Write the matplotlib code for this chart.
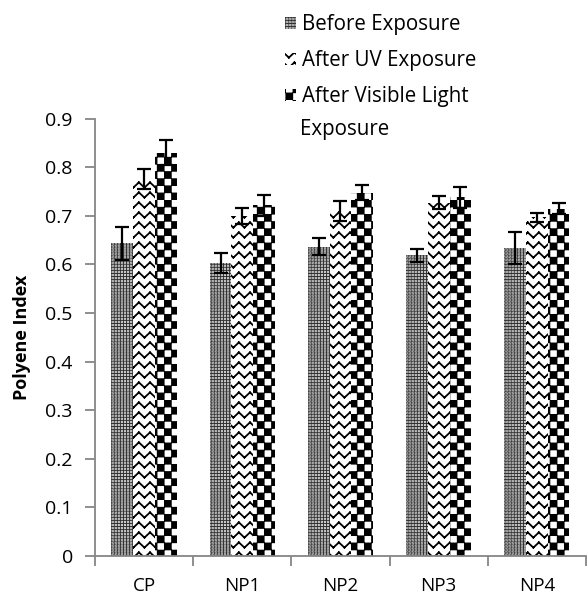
import warnings
import numpy as np
import matplotlib
matplotlib.use("Agg")
import matplotlib.pyplot as plt
import matplotlib.hatch as mhatch
from matplotlib.path import Path

warnings.filterwarnings("ignore")

#%% data
samples = ["CP", "NP1", "NP2", "NP3", "NP4"]
labels = ["Before Exposure", "After UV Exposure", "After Visible Light", "Exposure"]
before = [0.644, 0.603, 0.637, 0.619, 0.633]
before_err = [0.034, 0.021, 0.018, 0.013, 0.033]
uv = [0.776, 0.700, 0.710, 0.727, 0.697]
uv_err = [0.020, 0.016, 0.021, 0.013, 0.010]
vis = [0.830, 0.722, 0.748, 0.738, 0.715]
vis_err = [0.026, 0.022, 0.016, 0.021, 0.011]


#%% custom hatches: checkerboard 'k', zigzag 'z', fine dots 'q'
def _square(vertices, codes, c, x0, y0, x1, y1):
    vertices[c:c + 5] = [(x0, y0), (x1, y0), (x1, y1), (x0, y1), (x0, y0)]
    codes[c:c + 5] = [Path.MOVETO, Path.LINETO, Path.LINETO,
                      Path.LINETO, Path.CLOSEPOLY]


class CheckerHatch(mhatch.HatchPatternBase):
    def __init__(self, hatch, density):
        self.n = 2 * hatch.count('k')
        self.num_vertices = (self.n * self.n // 2) * 5

    def set_vertices_and_codes(self, vertices, codes):
        s = 1.0 / self.n
        d = 0.006
        c = 0
        for i in range(self.n):
            for j in range(self.n):
                if (i + j) % 2:
                    continue
                _square(vertices, codes, c, i * s + d, j * s + d,
                        (i + 1) * s - d, (j + 1) * s - d)
                c += 5


class DotHatch(mhatch.HatchPatternBase):
    def __init__(self, hatch, density):
        self.n = 2 * hatch.count('q')
        self.num_vertices = self.n * self.n * 5

    def set_vertices_and_codes(self, vertices, codes):
        s = 1.0 / self.n
        h = 0.001
        c = 0
        for i in range(self.n):
            for j in range(self.n):
                cx, cy = (i + 0.5) * s, (j + 0.5) * s
                _square(vertices, codes, c, cx - h, cy - h, cx + h, cy + h)
                c += 5


class ZigZagHatch(mhatch.HatchPatternBase):
    def __init__(self, hatch, density):
        k = hatch.count('z')
        self.rows = 10 * k
        self.periods = 9 * k
        self.num_vertices = self.rows * self.periods * 4

    def set_vertices_and_codes(self, vertices, codes):
        a = 0.026
        c = 0
        for r in range(self.rows):
            y = (r + 0.5) / self.rows
            for p in range(self.periods):
                x0 = p / self.periods
                xm = (p + 0.5) / self.periods
                x1 = (p + 1) / self.periods
                vertices[c:c + 4] = [(x0, y - a), (xm, y + a), (xm, y + a), (x1, y - a)]
                codes[c:c + 4] = [Path.MOVETO, Path.LINETO, Path.MOVETO, Path.LINETO]
                c += 4


mhatch._hatch_types += [CheckerHatch, DotHatch, ZigZagHatch]

plt.rcParams['font.family'] = ['Open Sans', 'DejaVu Sans']
plt.rcParams['hatch.linewidth'] = 1.3

#%% plot
fig = plt.figure(figsize=(5.87, 5.97), dpi=100)
ax = fig.add_axes([0.162, 0.069, 0.836, 0.732])

x = np.arange(len(samples))
w = 0.222
# (values, errors, hatch, face, hatch colour)
series = [(before, before_err, 'q' * 17, '#2a2a2a', 'white'),
          (uv, uv_err, 'z', 'white', 'black'),
          (vis, vis_err, 'k' * 7, 'white', 'black')]
handles = []
for i, (vals, errs, hat, fc, hc) in enumerate(series):
    b = ax.bar(x + (i - 1) * w, vals, w, color=fc, edgecolor=hc,
               linewidth=0, hatch=hat, zorder=2)
    ax.errorbar(x + (i - 1) * w, vals, yerr=errs, fmt='none', ecolor='black',
                elinewidth=1.6, capsize=5, capthick=1.6, zorder=3)
    handles.append(b)

ax.set_xlim(-0.5, 4.5)
ax.set_ylim(0, 0.9)
ax.set_yticks(np.arange(0, 0.91, 0.1))
ax.set_yticklabels(["0"] + [f"{t:.1f}" for t in np.arange(0.1, 0.91, 0.1)])
ax.set_xticks(x)
ax.set_xticklabels(samples)
ax.set_xticks(np.arange(-0.5, 4.6, 1), minor=True)
ax.tick_params(axis='x', which='major', length=0, pad=15, labelsize=13.5)
ax.tick_params(axis='x', which='minor', length=7, width=1.3, color='#868686')
ax.tick_params(axis='y', length=7, width=1.3, color='#868686', pad=9, labelsize=14)
for s in ['top', 'right']:
    ax.spines[s].set_visible(False)
for s in ['left', 'bottom']:
    ax.spines[s].set_color('#868686')
    ax.spines[s].set_linewidth(1.3)

ax.set_ylabel("Polyene Index", fontweight='bold', fontsize=13, labelpad=10)

fs = 14.8
leg = fig.legend(handles=handles, labels=labels[:3], loc='upper left',
                 bbox_to_anchor=(0.468, 0.993), frameon=False, fontsize=fs,
                 borderpad=0, handlelength=0.55, handleheight=0.55,
                 handletextpad=0.3, labelspacing=0.72)
fig.text(300 / 587, 1 - 130 / 597, labels[3], fontsize=fs, va='center', ha='left')

fig.savefig("out.png", dpi=100)
